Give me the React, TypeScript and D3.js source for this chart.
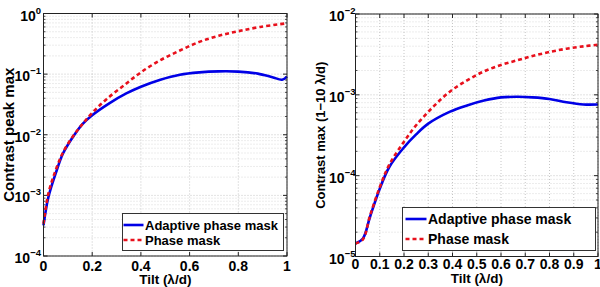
import React, { useRef, useEffect } from "react";
import * as d3 from "d3";

// ---- Data ----
const tiltLeft = [0, 0.02, 0.05, 0.08, 0.12, 0.16, 0.2, 0.27, 0.34, 0.4, 0.48, 0.56, 0.64, 0.72, 0.8, 0.88, 0.94, 0.98, 1];
const adaptiveLeft = [3.2e-4, 9.3e-4, 2.3e-3, 4.9e-3, 9.1e-3, 1.5e-2, 2.1e-2, 3.3e-2, 4.8e-2, 6.2e-2, 8.1e-2, 9.8e-2, 0.107, 0.111, 0.11, 0.102, 0.089, 0.081, 0.091];
const tiltLeftPhase = [0, 0.02, 0.05, 0.08, 0.12, 0.16, 0.2, 0.26, 0.33, 0.4, 0.48, 0.56, 0.64, 0.72, 0.8, 0.89, 1];
const phaseLeft = [3.4e-4, 1.07e-3, 2.6e-3, 5.1e-3, 9.3e-3, 1.5e-2, 2.3e-2, 3.9e-2, 6.5e-2, 0.107, 0.17, 0.245, 0.34, 0.43, 0.51, 0.6, 0.69];

const tiltRight = [0, 0.03, 0.06, 0.1, 0.14, 0.2, 0.25, 0.3, 0.39, 0.46, 0.53, 0.6, 0.67, 0.73, 0.8, 0.87, 0.94, 1];
const adaptiveRight = [1.45e-5, 1.66e-5, 3.1e-5, 6.9e-5, 1.29e-4, 2.24e-4, 3.24e-4, 4.4e-4, 6.2e-4, 7.4e-4, 8.5e-4, 9.3e-4, 9.45e-4, 9.3e-4, 8.9e-4, 8.1e-4, 7.6e-4, 7.6e-4];
const tiltRightPhase = [0, 0.03, 0.06, 0.1, 0.14, 0.2, 0.25, 0.32, 0.39, 0.46, 0.53, 0.6, 0.67, 0.73, 0.8, 0.87, 0.94, 1];
const phaseRight = [1.45e-5, 1.62e-5, 3.2e-5, 7.2e-5, 1.38e-4, 2.63e-4, 4.2e-4, 7.1e-4, 1.1e-3, 1.51e-3, 1.95e-3, 2.34e-3, 2.69e-3, 3.02e-3, 3.39e-3, 3.72e-3, 3.98e-3, 4.17e-3];

const xTicksLeft = [0, 0.2, 0.4, 0.6, 0.8, 1];
const xTickLabelsLeft = ["0", "0.2", "0.4", "0.6", "0.8", "1"];
const xTicksRight = [0, 0.1, 0.2, 0.3, 0.4, 0.5, 0.6, 0.7, 0.8, 0.9, 1];
const xTickLabelsRight = ["0", "0.1", "0.2", "0.3", "0.4", "0.5", "0.6", "0.7", "0.8", "0.9", "1"];
const yExpLeft = [0, -1, -2, -3, -4];
const yExpRight = [-2, -3, -4, -5];

const seriesNames = ["Adaptive phase mask", "Phase mask"];
const xLabel = "Tilt (λ/d)";
const yLabelLeft = "Contrast peak max";
const yLabelRight = "Contrast max (1\u221210 \u03bb/d)";

const BLUE = "#0000e6";
const RED = "#e8101c";
const FONT = "'Liberation Sans', Arial, Helvetica, sans-serif";

type Panel = {
  left: number; right: number; top: number; bottom: number;
  yDomain: [number, number];
  xTicks: number[]; xTickLabels: string[]; yExp: number[];
  a: { x: number[]; y: number[] }; p: { x: number[]; y: number[] };
  yLabel: string; yLabelX: number; yLabelFs: number; yTickGap: number;
  tickFs: number; labelFs: number; xTickBase: number; xLabelBase: number;
  legend: { x: number; y: number; w: number; h: number; fs: number; row1: number; row2: number; lineStart: number; lineLen: number; textStart: number };
};

const panels: Panel[] = [
  {
    left: 43.5, right: 287, top: 13.5, bottom: 256,
    yDomain: [1e-4, 1],
    xTicks: xTicksLeft, xTickLabels: xTickLabelsLeft, yExp: yExpLeft,
    a: { x: tiltLeft, y: adaptiveLeft }, p: { x: tiltLeftPhase, y: phaseLeft },
    yLabel: yLabelLeft, yLabelX: 13.5, yLabelFs: 15, yTickGap: 2.5,
    tickFs: 14, labelFs: 13.5, xTickBase: 270.5, xLabelBase: 283.5,
    legend: { x: 122.5, y: 213.5, w: 161, h: 37, fs: 13, row1: 225, row2: 240, lineStart: 1, lineLen: 20, textStart: 22.5 },
  },
  {
    left: 355.5, right: 598, top: 14, bottom: 256.5,
    yDomain: [1e-5, 1e-2],
    xTicks: xTicksRight, xTickLabels: xTickLabelsRight, yExp: yExpRight,
    a: { x: tiltRight, y: adaptiveRight }, p: { x: tiltRightPhase, y: phaseRight },
    yLabel: yLabelRight, yLabelX: 324.5, yLabelFs: 13, yTickGap: 0,
    tickFs: 14, labelFs: 13.5, xTickBase: 268.5, xLabelBase: 283,
    legend: { x: 402.5, y: 207.5, w: 193, h: 43, fs: 14, row1: 219, row2: 239, lineStart: 3, lineLen: 21, textStart: 25.5 },
  },
];

function drawPanel(g: d3.Selection<SVGGElement, unknown, null, undefined>, P: Panel) {
  const x = d3.scaleLinear().domain([0, 1]).range([P.left, P.right]);
  const y = d3.scaleLog().domain(P.yDomain).range([P.bottom, P.top]);

  // grid: minor horizontal
  const minor: number[] = [];
  for (let e = Math.log10(P.yDomain[0]); e < Math.log10(P.yDomain[1]); e++) {
    for (let m = 2; m <= 9; m++) minor.push(m * Math.pow(10, e));
  }
  g.selectAll(".minor").data(minor).enter().append("line")
    .attr("x1", P.left).attr("x2", P.right)
    .attr("y1", (d) => y(d)).attr("y2", (d) => y(d))
    .attr("stroke", "#c8c8c8").attr("stroke-width", 0.7).attr("stroke-dasharray", "1,2");
  g.selectAll(".majh").data(P.yExp).enter().append("line")
    .attr("x1", P.left).attr("x2", P.right)
    .attr("y1", (d) => y(Math.pow(10, d))).attr("y2", (d) => y(Math.pow(10, d)))
    .attr("stroke", "#b8b8b8").attr("stroke-width", 0.8).attr("stroke-dasharray", "1,2");
  g.selectAll(".majv").data(P.xTicks).enter().append("line")
    .attr("x1", (d) => x(d)).attr("x2", (d) => x(d))
    .attr("y1", P.top).attr("y2", P.bottom)
    .attr("stroke", "#b8b8b8").attr("stroke-width", 0.8).attr("stroke-dasharray", "1,2");

  // ticks
  P.xTicks.forEach((t) => {
    g.append("line").attr("x1", x(t)).attr("x2", x(t)).attr("y1", P.bottom).attr("y2", P.bottom - 4).attr("stroke", "#222");
    g.append("line").attr("x1", x(t)).attr("x2", x(t)).attr("y1", P.top).attr("y2", P.top + 4).attr("stroke", "#222");
  });
  P.yExp.forEach((e) => {
    const yy = y(Math.pow(10, e));
    g.append("line").attr("x1", P.left).attr("x2", P.left + 4).attr("y1", yy).attr("y2", yy).attr("stroke", "#222");
    g.append("line").attr("x1", P.right).attr("x2", P.right - 4).attr("y1", yy).attr("y2", yy).attr("stroke", "#222");
  });
  minor.forEach((m) => {
    const yy = y(m);
    g.append("line").attr("x1", P.left).attr("x2", P.left + 2).attr("y1", yy).attr("y2", yy).attr("stroke", "#222").attr("stroke-width", 0.8);
    g.append("line").attr("x1", P.right).attr("x2", P.right - 2).attr("y1", yy).attr("y2", yy).attr("stroke", "#222").attr("stroke-width", 0.8);
  });

  // curves
  const line = d3.line<[number, number]>()
    .x((d) => x(d[0])).y((d) => y(d[1])).curve(d3.curveCatmullRom.alpha(0.5));
  const aPts = P.a.x.map((v, i) => [v, P.a.y[i]] as [number, number]);
  const pPts = P.p.x.map((v, i) => [v, P.p.y[i]] as [number, number]);
  g.append("path").attr("d", line(aPts)).attr("fill", "none").attr("stroke", BLUE).attr("stroke-width", 2.6);
  g.append("path").attr("d", line(pPts)).attr("fill", "none").attr("stroke", RED).attr("stroke-width", 2.6).attr("stroke-dasharray", "4,3");

  // box
  g.append("rect").attr("x", P.left).attr("y", P.top).attr("width", P.right - P.left).attr("height", P.bottom - P.top)
    .attr("fill", "none").attr("stroke", "#222").attr("stroke-width", 1);

  // x tick labels
  P.xTicks.forEach((t, i) => {
    g.append("text").attr("x", x(t)).attr("y", P.xTickBase).attr("text-anchor", "middle")
      .attr("font-family", FONT).attr("font-weight", "bold").attr("font-size", P.tickFs).text(P.xTickLabels[i]);
  });
  // y tick labels
  P.yExp.forEach((e) => {
    const t = g.append("text").attr("x", P.left - P.yTickGap).attr("y", y(Math.pow(10, e)) + 7).attr("text-anchor", "end")
      .attr("font-family", FONT).attr("font-weight", "bold").attr("font-size", P.tickFs);
    t.append("tspan").text("10");
    t.append("tspan").attr("dy", -7).attr("font-size", P.tickFs * 0.68).text(e === 0 ? "0" : "\u2212" + Math.abs(e));
  });
  // axis labels
  g.append("text").attr("x", (P.left + P.right) / 2).attr("y", P.xLabelBase).attr("text-anchor", "middle")
    .attr("font-family", FONT).attr("font-weight", "bold").attr("font-size", P.labelFs).text(xLabel);
  const cy = (P.top + P.bottom) / 2;
  g.append("text").attr("transform", `translate(${P.yLabelX},${cy}) rotate(-90)`).attr("text-anchor", "middle")
    .attr("font-family", FONT).attr("font-weight", "bold").attr("font-size", P.yLabelFs).text(P.yLabel);

  // legend
  const L = P.legend;
  g.append("rect").attr("x", L.x).attr("y", L.y).attr("width", L.w).attr("height", L.h)
    .attr("fill", "white").attr("stroke", "#333").attr("stroke-width", 1);
  const rows: [number, string, string | null][] = [[L.row1, BLUE, null], [L.row2, RED, "4,3"]];
  rows.forEach(([ry, col, dash], i) => {
    const ln = g.append("line").attr("x1", L.x + L.lineStart).attr("x2", L.x + L.lineStart + L.lineLen)
      .attr("y1", ry).attr("y2", ry).attr("stroke", col).attr("stroke-width", 2.6);
    if (dash) ln.attr("stroke-dasharray", dash);
    g.append("text").attr("x", L.x + L.textStart).attr("y", ry + L.fs * 0.36)
      .attr("font-family", FONT).attr("font-weight", "bold").attr("font-size", L.fs).text(seriesNames[i]);
  });
}

export default function App() {
  const ref = useRef<SVGSVGElement>(null);
  useEffect(() => {
    const svg = d3.select(ref.current!);
    svg.selectAll("*").remove();
    panels.forEach((P) => {
      const g = svg.append("g");
      drawPanel(g as any, P);
    });
  }, []);
  return (
    <svg ref={ref} width={600} height={287}
      style={{ position: "absolute", left: 0, top: 0, background: "white" }} />
  );
}
